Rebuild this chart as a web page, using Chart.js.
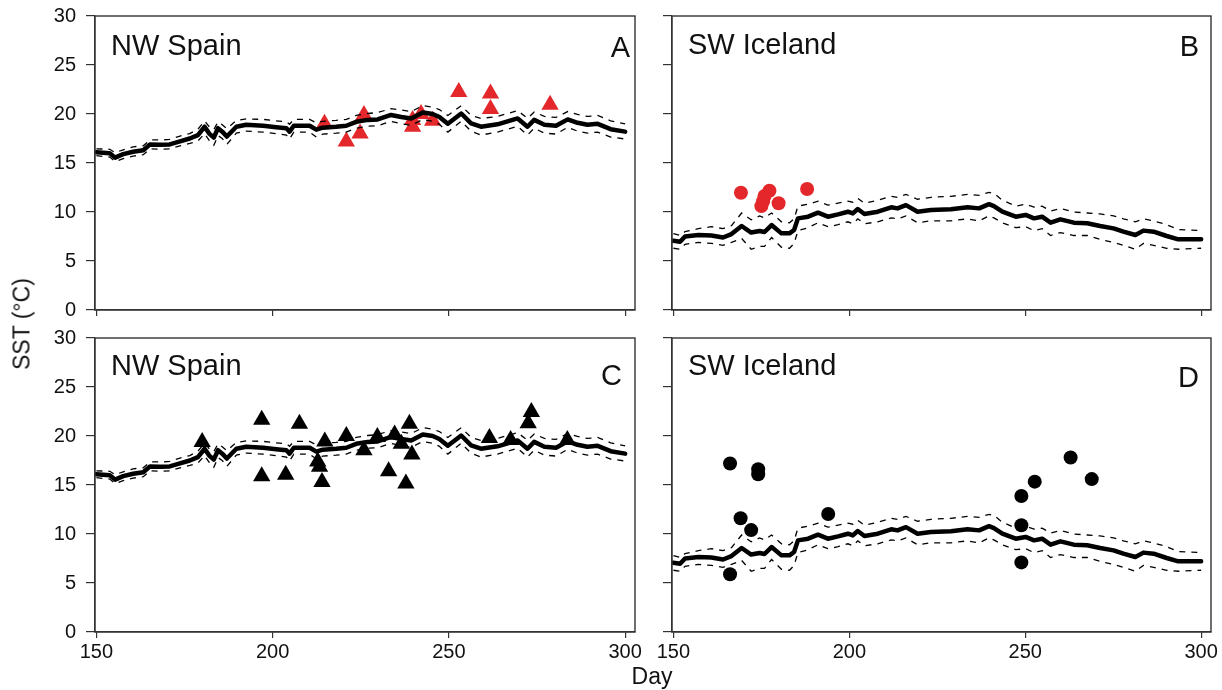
<!DOCTYPE html>
<html>
<head>
<meta charset="utf-8">
<script src="https://cdn.jsdelivr.net/npm/chart.js@4/dist/chart.umd.min.js"></script>
<style>
  body { margin: 0; background: #fff; width: 1222px; height: 690px; position: relative; overflow: hidden;
         font-family: "Liberation Sans", Arial, Helvetica, sans-serif; }
  canvas { position: absolute; }
  .t { position: absolute; color: #111; font-size: 23px; line-height: 23px; white-space: nowrap; }
</style>
</head>
<body>
<canvas id="pA" width="650" height="325" style="left:0;top:0;width:650px;height:325px"></canvas>
<canvas id="pB" width="572" height="325" style="left:650px;top:0;width:572px;height:325px"></canvas>
<canvas id="pC" width="650" height="365" style="left:0;top:325px;width:650px;height:365px"></canvas>
<canvas id="pD" width="572" height="365" style="left:650px;top:325px;width:572px;height:365px"></canvas>
<div class="t" style="left:22px;top:324px;transform:translate(-50%,-50%) rotate(-90deg)">SST (°C)</div>
<div class="t" style="left:652px;top:676px;transform:translate(-50%,-50%)">Day</div>
<script>
const xTicks = [150, 200, 250, 300];
const yTicks = [0, 5, 10, 15, 20, 25, 30];

// NW Spain climatology (mean and dashed bounds)
const spainDays  = [150, 153.8, 155.3, 157.6, 160.4, 163.3, 165.2, 168, 170.8, 173.7, 176.5, 178.8, 180.7, 182, 183.3, 184.5, 185.7, 187, 189.7, 192.5, 197.3, 201, 203.9, 204.8, 206, 210.5, 212.4, 214.2, 218, 220.9, 223.7, 227, 229.8, 233.6, 236.5, 239.3, 242.6, 245.4, 247.3, 249.7, 253.5, 256.3, 259.1, 263.8, 269.5, 272.3, 274.2, 277.1, 280.4, 283.7, 286.5, 289.3, 292.2, 295.9, 300];
const spainMean  = [16.1, 16.0, 15.55, 15.9, 16.15, 16.3, 16.9, 16.85, 16.9, 17.2, 17.5, 17.85, 18.7, 18.0, 17.6, 18.55, 18.2, 17.7, 18.7, 18.9, 18.8, 18.65, 18.55, 18.2, 18.8, 18.8, 18.4, 18.6, 18.7, 18.8, 19.2, 19.4, 19.45, 19.9, 19.7, 19.55, 20.15, 20.0, 19.7, 19.0, 20.05, 19.05, 18.7, 18.95, 19.55, 18.7, 19.4, 18.9, 18.8, 19.45, 19.1, 18.9, 19.0, 18.45, 18.2];
const spainUpper = [16.45, 16.4, 16.05, 16.35, 16.65, 16.75, 17.35, 17.35, 17.4, 17.75, 18.0, 18.45, 19.3, 18.7, 18.4, 19.2, 18.9, 18.5, 19.35, 19.5, 19.45, 19.3, 19.2, 18.95, 19.45, 19.45, 19.1, 19.25, 19.35, 19.45, 19.85, 20.05, 20.15, 20.55, 20.4, 20.25, 20.85, 20.7, 20.45, 19.85, 20.85, 19.85, 19.55, 19.75, 20.35, 19.55, 20.2, 19.75, 19.65, 20.25, 19.95, 19.75, 19.85, 19.3, 19.0];
const spainLower = [15.75, 15.6, 15.15, 15.45, 15.7, 15.85, 16.45, 16.4, 16.45, 16.75, 17.0, 17.25, 18.0, 17.3, 16.8, 17.8, 17.5, 16.9, 18.05, 18.25, 18.15, 18.0, 17.85, 17.45, 18.15, 18.15, 17.65, 17.95, 18.05, 18.15, 18.55, 18.75, 18.8, 19.25, 19.0, 18.85, 19.45, 19.25, 18.95, 18.15, 19.25, 18.25, 17.85, 18.15, 18.75, 17.85, 18.55, 18.05, 17.95, 18.65, 18.25, 18.05, 18.15, 17.65, 17.45];

// SW Iceland climatology
const icelandDays  = [150, 151.9, 153.3, 157.1, 160.8, 164.1, 166.5, 169.4, 172.1, 174.5, 175.9, 177.9, 180.7, 183, 184.3, 185.4, 188.3, 191.1, 193.9, 196.8, 199.6, 201, 202.4, 204.3, 208.1, 211.9, 213.7, 216.1, 219.4, 223.2, 228.9, 233.6, 236.9, 239.7, 241.1, 243.5, 247.3, 250.1, 252.5, 254.8, 257.2, 260, 263.8, 267.6, 271.3, 275.1, 277.9, 281.3, 283.6, 286.5, 290.2, 293.5, 300];
const icelandMean  = [7.07, 6.97, 7.5, 7.65, 7.6, 7.4, 7.75, 8.57, 7.9, 8.06, 7.96, 8.67, 7.82, 7.82, 8.16, 9.35, 9.52, 9.93, 9.52, 9.76, 10.03, 9.86, 10.3, 9.8, 10.03, 10.48, 10.37, 10.7, 10.03, 10.2, 10.27, 10.48, 10.37, 10.8, 10.6, 10.03, 9.52, 9.7, 9.35, 9.52, 8.91, 9.25, 8.91, 8.85, 8.57, 8.33, 7.99, 7.65, 8.1, 7.99, 7.55, 7.21, 7.21];
const icelandUpper = [7.8, 7.6, 8.0, 8.3, 8.5, 8.3, 8.6, 9.9, 9.2, 9.6, 9.4, 9.9, 9.0, 8.9, 9.3, 10.6, 10.8, 11.1, 10.7, 10.9, 11.1, 11.0, 11.4, 10.9, 11.2, 11.6, 11.5, 11.8, 11.3, 11.5, 11.6, 11.8, 11.7, 12.0, 11.9, 11.2, 10.6, 10.8, 10.5, 10.6, 10.1, 10.35, 10.0, 9.9, 9.8, 9.6, 9.3, 9.0, 9.3, 9.1, 8.7, 8.2, 8.1];
const icelandLower = [6.3, 6.2, 6.7, 6.9, 6.8, 6.6, 6.9, 7.3, 6.2, 6.5, 6.5, 7.4, 6.4, 6.3, 6.8, 8.1, 8.4, 8.9, 8.5, 8.7, 9.0, 8.8, 9.3, 8.8, 9.0, 9.4, 9.3, 9.6, 8.9, 9.1, 9.1, 9.3, 9.1, 9.6, 9.4, 8.9, 8.4, 8.5, 8.1, 8.3, 7.6, 7.9, 7.6, 7.6, 7.2, 6.9, 6.6, 6.2, 6.8, 6.6, 6.3, 6.2, 6.3];

// observations
const spainRedDays = [214.7, 220.9, 224.8, 225.9, 239.7, 239.7, 242.1, 245.4, 252.8, 261.8, 261.8, 278.7];
const spainRedSST  = [19.0, 17.2, 18.0, 19.9, 19.4, 18.7, 20.0, 19.3, 22.25, 22.1, 20.5, 20.95];
const icelandRedDays = [169.2, 175, 175.5, 175.9, 177.3, 179.9, 188];
const icelandRedSST  = [11.97, 10.6, 11.1, 11.63, 12.17, 10.9, 12.35];
const spainBlackDays = [180, 196.9, 207.6, 196.9, 203.7, 214.8, 212.8, 213.3, 214, 220.9, 225.9, 229.7, 234.6, 236.5, 238.8, 232.9, 237.8, 239.5, 261.5, 267.5, 272.5, 273.4, 283.6];
const spainBlackSST  = [19.4, 21.65, 21.25, 15.9, 16.05, 19.45, 17.4, 16.85, 15.3, 20.0, 18.55, 19.9, 20.15, 19.2, 21.25, 16.4, 15.15, 18.1, 19.8, 19.6, 21.3, 22.45, 19.6];
const icelandBlackDays = [166.1, 174.1, 174.1, 169.1, 172.1, 166.1, 194, 248.9, 252.7, 262.9, 268.9, 248.9, 248.9];
const icelandBlackSST  = [17.2, 16.6, 16.1, 11.6, 10.4, 5.9, 12.04, 13.88, 15.34, 17.8, 15.6, 10.9, 7.1];

const FONT = '"Liberation Sans", Arial, Helvetica, sans-serif';
const RED = '#e3272a';

const panelFrame = {
  id: 'panelFrame',
  afterDraw(chart, args, o) {
    const { ctx, chartArea: a } = chart;
    ctx.save();
    ctx.strokeStyle = '#333';
    ctx.lineWidth = 1.4;
    ctx.strokeRect(a.left, a.top, a.right - a.left, a.bottom - a.top);
    ctx.fillStyle = '#111';
    ctx.font = '29px ' + FONT;
    ctx.textBaseline = 'alphabetic';
    ctx.textAlign = 'left';
    ctx.fillText(o.site, a.left + 16, a.top + o.siteY);
    ctx.textAlign = 'right';
    ctx.fillText(o.letter, a.right - o.letterX, a.top + o.letterY);
    ctx.restore();
  }
};

function pts(xs, ys) {
  return xs.map((d, i) => ({ x: d, y: ys[i] }));
}

function panel(id, o) {
  new Chart(document.getElementById(id), {
    type: 'scatter',
    plugins: [panelFrame],
    data: {
      datasets: [
        { data: pts(o.days, o.mean), showLine: true, borderColor: '#000', borderWidth: 4.5,
          pointRadius: 0, borderJoinStyle: 'round', borderCapStyle: 'round' },
        { data: pts(o.days, o.upper), showLine: true, borderColor: '#000', borderWidth: 1.3,
          borderDash: [6, 6], pointRadius: 0 },
        { data: pts(o.days, o.lower), showLine: true, borderColor: '#000', borderWidth: 1.3,
          borderDash: [6, 6], pointRadius: 0 },
        { data: pts(o.obsDays, o.obsSST), pointStyle: o.marker, pointRadius: o.r,
          backgroundColor: o.color, borderWidth: 0 }
      ]
    },
    options: {
      responsive: false,
      animation: false,
      events: [],
      layout: { autoPadding: false, padding: { top: o.padTop, right: o.padRight, left: 0, bottom: 0 } },
      plugins: {
        legend: { display: false },
        tooltip: { enabled: false },
        panelFrame: { site: o.site, letter: o.letter, siteY: o.siteY, letterX: o.letterX, letterY: o.letterY }
      },
      scales: {
        x: {
          type: 'linear', min: 149.6, max: 302.8,
          afterBuildTicks: s => { s.ticks = xTicks.map(v => ({ value: v })); },
          afterFit: s => { s.height = o.xH; s.paddingLeft = 0; s.paddingRight = 0; },
          grid: { drawOnChartArea: false, tickLength: 6, color: '#333', lineWidth: 1.2 },
          border: { color: '#333', width: 1.2 },
          ticks: { display: o.xLabels, color: '#111', font: { size: 20, family: FONT },
                   padding: 2, maxRotation: 0, autoSkip: false }
        },
        y: {
          type: 'linear', min: 0, max: 30,
          afterBuildTicks: s => { s.ticks = yTicks.map(v => ({ value: v })); },
          afterFit: s => { s.width = o.yW; s.paddingTop = 0; s.paddingBottom = 0; },
          grid: { drawOnChartArea: false, tickLength: 9, color: '#333', lineWidth: 1.2 },
          border: { color: '#333', width: 1.2 },
          ticks: { display: o.yLabels, color: '#111', font: { size: 20, family: FONT }, padding: 10 }
        }
      }
    }
  });
}

panel('pA', {
  days: spainDays, mean: spainMean, upper: spainUpper, lower: spainLower,
  obsDays: spainRedDays, obsSST: spainRedSST, marker: 'triangle', r: 10, color: RED,
  padTop: 16, padRight: 15, xH: 15, yW: 95, xLabels: false, yLabels: true,
  site: 'NW Spain', letter: 'A', siteY: 39, letterX: 5, letterY: 41
});
panel('pB', {
  days: icelandDays, mean: icelandMean, upper: icelandUpper, lower: icelandLower,
  obsDays: icelandRedDays, obsSST: icelandRedSST, marker: 'circle', r: 7, color: RED,
  padTop: 16, padRight: 11, xH: 15, yW: 22, xLabels: false, yLabels: false,
  site: 'SW Iceland', letter: 'B', siteY: 38, letterX: 12, letterY: 40
});
panel('pC', {
  days: spainDays, mean: spainMean, upper: spainUpper, lower: spainLower,
  obsDays: spainBlackDays, obsSST: spainBlackSST, marker: 'triangle', r: 10, color: '#000',
  padTop: 13, padRight: 15, xH: 58, yW: 95, xLabels: true, yLabels: true,
  site: 'NW Spain', letter: 'C', siteY: 37, letterX: 13, letterY: 47
});
panel('pD', {
  days: icelandDays, mean: icelandMean, upper: icelandUpper, lower: icelandLower,
  obsDays: icelandBlackDays, obsSST: icelandBlackSST, marker: 'circle', r: 7, color: '#000',
  padTop: 13, padRight: 11, xH: 58, yW: 22, xLabels: true, yLabels: false,
  site: 'SW Iceland', letter: 'D', siteY: 37, letterX: 12, letterY: 49
});
</script>
</body>
</html>
